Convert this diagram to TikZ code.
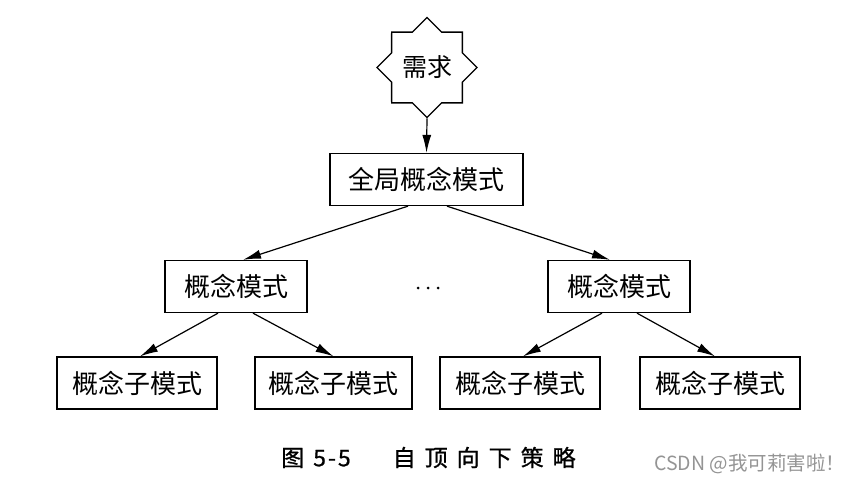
\documentclass[tikz,border=0pt]{standalone}
\usepackage{fontspec}
\setmainfont{Noto Sans CJK SC}
\newfontfamily\capfont[FakeBold=0.8]{Noto Sans CJK SC}
\usetikzlibrary{arrows.meta,shapes.geometric}
\tikzset{
  box/.style={draw, line width=1.3pt, inner sep=0pt, minimum height=52pt, font=\fontsize{26}{30}\selectfont},
  arr/.style={line width=1.2pt, -{Latex[length=18pt,width=9pt]}},
  starnode/.style={draw, line width=1.3pt, star, star points=8, star point ratio=1.306, minimum size=100pt, inner sep=0pt, font=\fontsize{25}{28}\selectfont},
  dot/.style={fill, circle, inner sep=0pt, minimum size=3pt}
}
\begin{document}
\begin{tikzpicture}[x=1pt,y=-1pt]
\useasboundingbox (0,0) rectangle (853,481);
\node[starnode] (need) at (427,67.5) {需求};
\node[box, minimum width=193pt] (g) at (426.5,179.5) {全局概念模式};
\node[box, minimum width=142pt] (c1) at (236,286.5) {概念模式};
\node[box, minimum width=142pt] (c2) at (619,286.5) {概念模式};
\node[box, minimum width=160pt] (s1) at (137,383) {概念子模式};
\node[box, minimum width=157pt] (s2) at (333.5,383) {概念子模式};
\node[box, minimum width=160pt] (s3) at (520,383) {概念子模式};
\node[box, minimum width=160pt] (s4) at (720,383) {概念子模式};
\node[dot] (d1) at (418,288) {};
\node[dot] (d2) at (428,288) {};
\node[dot] (d3) at (438,288) {};
\draw[arr] (need.south) -- (g.north);
\draw[arr] ([xshift=-18.5pt]g.south) -- ([xshift=7pt]c1.north);
\draw[arr] ([xshift=20.5pt]g.south) -- ([xshift=-9pt]c2.north);
\draw[arr] ([xshift=-18pt]c1.south) -- ([xshift=3pt]s1.north);
\draw[arr] ([xshift=17pt]c1.south) -- ([xshift=0pt]s2.north);
\draw[arr] ([xshift=-17pt]c2.south) -- ([xshift=3pt]s3.north);
\draw[arr] ([xshift=18pt]c2.south) -- ([xshift=-5pt]s4.north);
\node[font=\fontsize{23}{26}\capfont, anchor=west, inner sep=0pt] (cap) at (281,457.5) {图\hspace{9pt}5\hspace{2pt}-\hspace{2pt}5\hspace{42pt}自\hspace{9pt}顶\hspace{9pt}向\hspace{9pt}下\hspace{9pt}策\hspace{9pt}略};
\node[font=\fontsize{19.5}{22}\selectfont, text=black!42, anchor=west, inner sep=0pt] (wm) at (654,464) {CSDN @我可莉害啦！};
\end{tikzpicture}
\end{document}
